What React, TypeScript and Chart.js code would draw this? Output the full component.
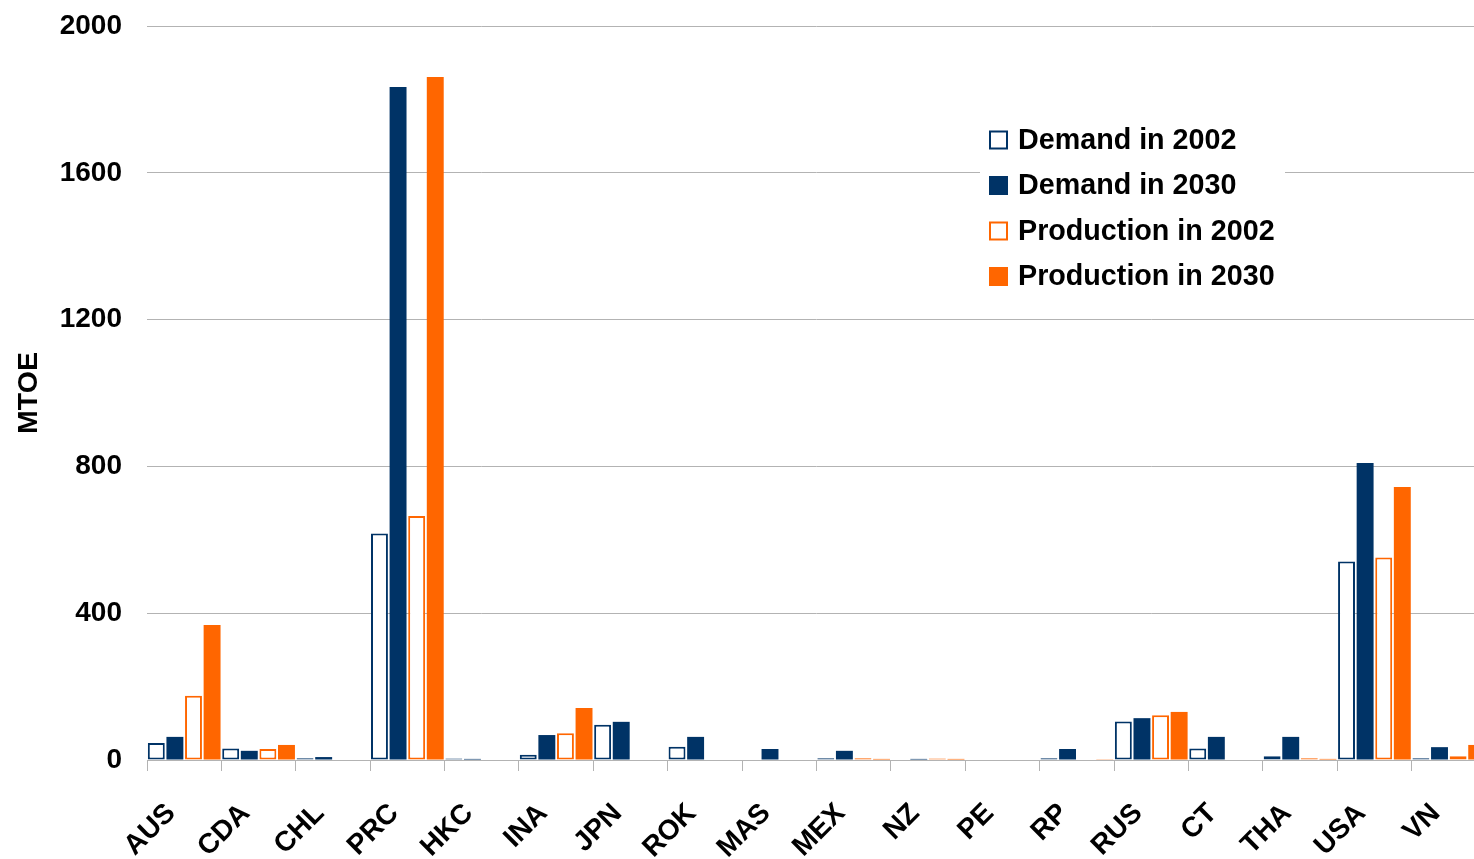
import React, { useEffect, useRef } from 'react';
import { Chart, registerables } from 'chart.js';

Chart.register(...registerables);

const categories = ['AUS', 'CDA', 'CHL', 'PRC', 'HKC', 'INA', 'JPN', 'ROK', 'MAS', 'MEX', 'NZ', 'PE', 'RP', 'RUS', 'CT', 'THA', 'USA', 'VN'];
const demand2002 = [46, 31, 5, 617, 4, 14, 96, 36, 0, 5, 0, 0, 5, 105, 31, 10, 541, 5];
const demand2030 = [63, 25, 8, 1834, 3, 68, 104, 63, 30, 25, 3, 0, 30, 114, 63, 63, 809, 35];
const production2002 = [175, 30, 0, 665, 0, 73, 0, 0, 0, 5, 4, 0, 0, 122, 0, 5, 552, 10];
const production2030 = [368, 41, 0, 1861, 0, 142, 0, 0, 0, 3, 3, 0, 2, 131, 0, 3, 744, 41];
const seriesLabels = ['Demand in 2002', 'Demand in 2030', 'Production in 2002', 'Production in 2030'];
const yTickValues = [0, 400, 800, 1200, 1600, 2000];

const NAVY = '#003366';
const ORANGE = '#ff6600';
const GRID = '#b3b3b3';
const FONT = '"Liberation Sans", Arial, sans-serif';

const insideLegend = {
  id: 'insideLegend',
  afterDatasetsDraw(chart: any) {
    const { ctx, chartArea } = chart;
    const x0 = chartArea.left + 833;
    const y0 = chartArea.top + 92;
    ctx.save();
    ctx.fillStyle = '#ffffff';
    ctx.fillRect(x0, y0, 305, 180);
    ctx.font = `bold 28.7px ${FONT}`;
    ctx.textBaseline = 'middle';
    ctx.textAlign = 'left';
    chart.data.datasets.forEach((ds: any, i: number) => {
      const cy = y0 + 22 + i * 45.5;
      const mx = x0 + 9;
      const size = 19;
      if (ds.borderWidth > 0 && ds.backgroundColor === '#ffffff') {
        ctx.fillStyle = '#ffffff';
        ctx.fillRect(mx, cy - size / 2, size, size);
        ctx.strokeStyle = ds.borderColor;
        ctx.lineWidth = 2;
        ctx.strokeRect(mx + 1, cy - size / 2 + 1, size - 2, size - 2);
      } else {
        ctx.fillStyle = ds.backgroundColor;
        ctx.fillRect(mx, cy - size / 2, size, size);
      }
      ctx.fillStyle = '#000000';
      ctx.fillText(ds.label, x0 + 38, cy + 1);
    });
    ctx.restore();
  },
};

export default function App() {
  const ref = useRef<HTMLCanvasElement>(null);

  useEffect(() => {
    if (!ref.current) return;
    const chart = new Chart(ref.current, {
      type: 'bar',
      data: {
        labels: categories,
        datasets: [
          { label: seriesLabels[0], data: demand2002, backgroundColor: '#ffffff', borderColor: NAVY, borderWidth: 2, borderSkipped: false },
          { label: seriesLabels[1], data: demand2030, backgroundColor: NAVY, borderWidth: 0 },
          { label: seriesLabels[2], data: production2002, backgroundColor: '#ffffff', borderColor: ORANGE, borderWidth: 2, borderSkipped: false },
          { label: seriesLabels[3], data: production2030, backgroundColor: ORANGE, borderWidth: 0 },
        ],
      },
      options: {
        responsive: false,
        animation: false,
        devicePixelRatio: 1,
        layout: { padding: { top: 26, right: 4, left: 0, bottom: 0 } },
        datasets: { bar: { categoryPercentage: 1.0, barPercentage: 0.91 } },
        plugins: {
          legend: { display: false },
          tooltip: { enabled: false },
        },
        scales: {
          x: {
            grid: { display: true, drawOnChartArea: false, drawTicks: true, tickLength: 11, color: GRID, offset: true },
            border: { display: true, color: GRID, width: 1 },
            ticks: {
              autoSkip: false,
              minRotation: 45,
              maxRotation: 45,
              color: '#000000',
              padding: 26,
              labelOffset: -13,
              font: { family: FONT, size: 28, weight: 'bold' },
            },
            afterFit: (s: any) => {
              s.height = 99;
              s.paddingLeft = 0;
              s.paddingRight = 0;
            },
          },
          y: {
            min: 0,
            max: 2000,
            afterBuildTicks: (s: any) => { s.ticks = yTickValues.map((v) => ({ value: v })); },
            grid: { color: GRID, drawTicks: false, lineWidth: 1 },
            border: { display: false },
            ticks: {
              color: '#000000',
              padding: 25,
              callback: (v: any) => String(v),
              font: { family: FONT, size: 28, weight: 'bold' },
            },
            title: {
              display: true,
              text: 'MTOE',
              color: '#000000',
              font: { family: FONT, size: 28.5, weight: 'bold' },
              padding: { top: 12, bottom: 0 },
            },
            afterFit: (s: any) => {
              s.width = 147;
              s.paddingTop = 0;
              s.paddingBottom = 0;
            },
          },
        },
      },
      plugins: [insideLegend],
    });
    return () => chart.destroy();
  }, []);

  return (
    <div style={{ position: 'fixed', left: 0, top: 0, width: '100vw', height: '100vh', overflow: 'hidden', background: '#ffffff' }}>
      <canvas ref={ref} width={1490} height={859} style={{ display: 'block' }} />
    </div>
  );
}
